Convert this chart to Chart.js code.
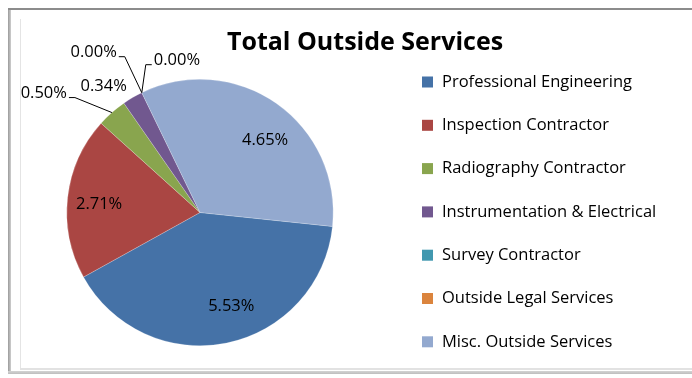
<!DOCTYPE html>
<html>
<head>
<meta charset="utf-8">
<script src="https://cdn.jsdelivr.net/npm/chart.js@4"></script>
<style>
  html, body { margin: 0; padding: 0; background: #fff; overflow: hidden; width: 692px; height: 378px; }
  .ln { position: absolute; }
  canvas { position: absolute; left: 0; top: 0; }
</style>
</head>
<body>
<div class="ln" style="left:8px; top:8px; width:3px; height:366px; background:linear-gradient(90deg,#9a9a9a,#cfcfcf);"></div>
<div class="ln" style="left:8px; top:8px; width:684px; height:2px; background:#8c8c8c;"></div>
<div class="ln" style="left:8px; top:371px; width:684px; height:3px; background:linear-gradient(#d4d4d4,#bdbdbd);"></div>
<div class="ln" style="left:20px; top:19px; width:1px; height:350px; background:#e4e4e4;"></div>
<div class="ln" style="left:20px; top:368px; width:672px; height:2px; background:#e2e2e2;"></div>
<canvas id="c" width="692" height="378"></canvas>
<script>
"use strict";

const TITLE = "Total Outside Services";
const LABELS = [
  "Professional Engineering",
  "Inspection Contractor",
  "Radiography Contractor",
  "Instrumentation & Electrical",
  "Survey Contractor",
  "Outside Legal Services",
  "Misc. Outside Services",
];
const VALUES = [5.53, 2.71, 0.50, 0.34, 0.00, 0.00, 4.65];
const COLORS = ["#4572a7", "#aa4643", "#89a54e", "#71588f", "#4198af", "#db843d", "#93a9cf"];

// How each data label sits relative to its slice (layout only).
const LABEL_PLACE = [
  { mode: "in", r: 0.74, da: -7 },
  { mode: "in", r: 0.76, da: -2 },
  { mode: "left", dx: -37, dy: -15 },
  { mode: "free", dx: -29, dy: -11 },
  { mode: "left", dx: -17, dy: -36 },
  { mode: "right", dx: 4, dy: -28 },
  { mode: "in", r: 0.73, da: 7 },
];

const FONT = "'Open Sans', 'Noto Sans', sans-serif";

const decor = {
  id: "decor",
  afterDraw(chart) {
    const ctx = chart.ctx;
    ctx.save();
    // title
    ctx.fillStyle = "#000";
    ctx.font = `bold 25px ${FONT}`;
    ctx.textAlign = "center";
    ctx.textBaseline = "middle";
    ctx.fillText(TITLE, 365, 43);

    // legend
    ctx.font = `16.5px ${FONT}`;
    ctx.textAlign = "left";
    LABELS.forEach((lab, i) => {
      const y = 82 + i * 43.3;
      ctx.fillStyle = COLORS[i];
      ctx.fillRect(422, y - 5.5, 11, 11);
      ctx.fillStyle = "#000";
      ctx.fillText(lab, 442, y);
    });

    // data labels
    const meta = chart.getDatasetMeta(0);
    ctx.font = `16.5px ${FONT}`;
    ctx.strokeStyle = "#000";
    ctx.lineWidth = 1;
    meta.data.forEach((arc, i) => {
      const p = arc.getProps(["x", "y", "startAngle", "endAngle", "outerRadius"], true);
      const mid = (p.startAngle + p.endAngle) / 2;
      const txt = VALUES[i].toFixed(2) + "%";
      const pl = LABEL_PLACE[i];
      ctx.fillStyle = "#000";
      if (pl.mode === "in") {
        const a = mid + pl.da * Math.PI / 180;
        const r = p.outerRadius * pl.r;
        ctx.textAlign = "center";
        ctx.fillText(txt, p.x + Math.cos(a) * r, p.y + Math.sin(a) * r);
        return;
      }
      const ax = p.x + Math.cos(mid) * p.outerRadius;
      const ay = p.y + Math.sin(mid) * p.outerRadius;
      const ex = ax + pl.dx, ey = ay + pl.dy;
      if (pl.mode === "free") {
        ctx.textAlign = "center";
        ctx.fillText(txt, ex, ey);
        return;
      }
      const dir = pl.mode === "left" ? -1 : 1;
      ctx.beginPath();
      ctx.moveTo(ax, ay);
      ctx.lineTo(ex, ey);
      ctx.lineTo(ex + dir * 6, ey);
      ctx.stroke();
      ctx.textAlign = dir < 0 ? "right" : "left";
      ctx.fillText(txt, ex + dir * 8, ey - 4);
    });
    ctx.restore();
  },
};

new Chart(document.getElementById("c"), {
  type: "pie",
  data: {
    labels: LABELS,
    datasets: [{
      data: VALUES,
      backgroundColor: COLORS,
      borderColor: "rgba(255,255,255,0.35)",
      borderWidth: 0.6,
    }],
  },
  options: {
    responsive: false,
    animation: false,
    rotation: 96,
    layout: { padding: { left: 66, right: 358, top: 79, bottom: 32 } },
    plugins: {
      legend: { display: false },
      title: { display: false },
      tooltip: { enabled: false },
    },
  },
  plugins: [decor],
});
</script>
</body>
</html>
